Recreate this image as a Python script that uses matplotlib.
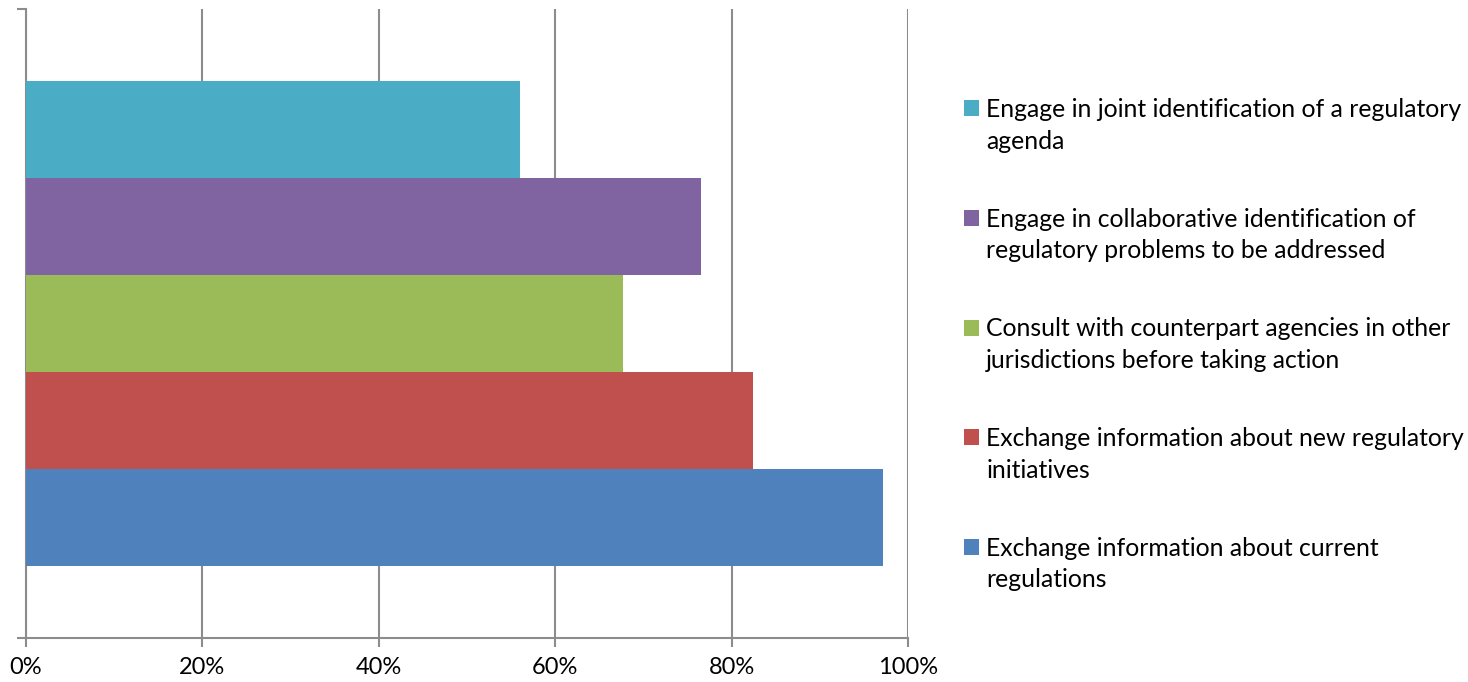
import matplotlib.pyplot as plt
from matplotlib.patches import Rectangle
from matplotlib.legend_handler import HandlerPatch
from matplotlib.ticker import PercentFormatter

# series (bottom to top as drawn)
labels = [
    "Exchange information about current\nregulations",
    "Exchange information about new regulatory\ninitiatives",
    "Consult with counterpart agencies in other\njurisdictions before taking action",
    "Engage in collaborative identification of\nregulatory problems to be addressed",
    "Engage in joint identification of a regulatory\nagenda",
]
values = [97.2, 82.4, 67.7, 76.5, 56.0]
colors = ["#4F81BD", "#C0504D", "#9BBB59", "#8064A2", "#4BACC6"]
xticks = [0, 20, 40, 60, 80, 100]

plt.rcParams['font.family'] = ['Lato', 'DejaVu Sans']
LEG_FS = 17.8


def top_square(legend, orig_handle, xdescent, ydescent, width, height, fontsize):
    # put the legend square next to the first line of a two-line label
    return Rectangle((-xdescent, -ydescent + 0.72 * fontsize), width, height)


fig = plt.figure(figsize=(14.68, 6.82), dpi=100)
ax = fig.add_axes([26 / 1468, 44 / 682, 882 / 1468, 629 / 682])

bars = []
for i, (v, c, lab) in enumerate(zip(values, colors, labels)):
    b = ax.barh(i, v, height=1.0, color=c, label=lab, zorder=3)
    bars.append(b)

ax.set_xlim(0, 100)
ax.set_ylim(-1.24, 5.24)
ax.set_xticks(xticks)
ax.xaxis.set_major_formatter(PercentFormatter(decimals=0))
ax.grid(axis='x', color='#8c8c8c', linewidth=1.5, zorder=0)
ax.set_yticks([-1.24, 5.24])
ax.set_yticklabels([])

for s in ['top', 'right']:
    ax.spines[s].set_visible(False)
for s in ['left', 'bottom']:
    ax.spines[s].set_color('#8c8c8c')
    ax.spines[s].set_linewidth(1.5)
ax.tick_params(axis='both', color='#8c8c8c', width=1.5, length=6.5, labelsize=17, pad=7)

handles = [b[0] for b in bars[::-1]]
leg = fig.legend(handles=handles, labels=labels[::-1], loc='upper left',
                 bbox_to_anchor=(964 / 1468, 1 - 98 / 682), frameon=False,
                 fontsize=LEG_FS, handlelength=0.62, handleheight=0.62, handletextpad=0.28,
                 labelspacing=2.23, borderpad=0, borderaxespad=0,
                 handler_map={Rectangle: HandlerPatch(patch_func=top_square)})
for t in leg.get_texts():
    t.set_linespacing(1.45)

fig.savefig('out.png', dpi=100)
